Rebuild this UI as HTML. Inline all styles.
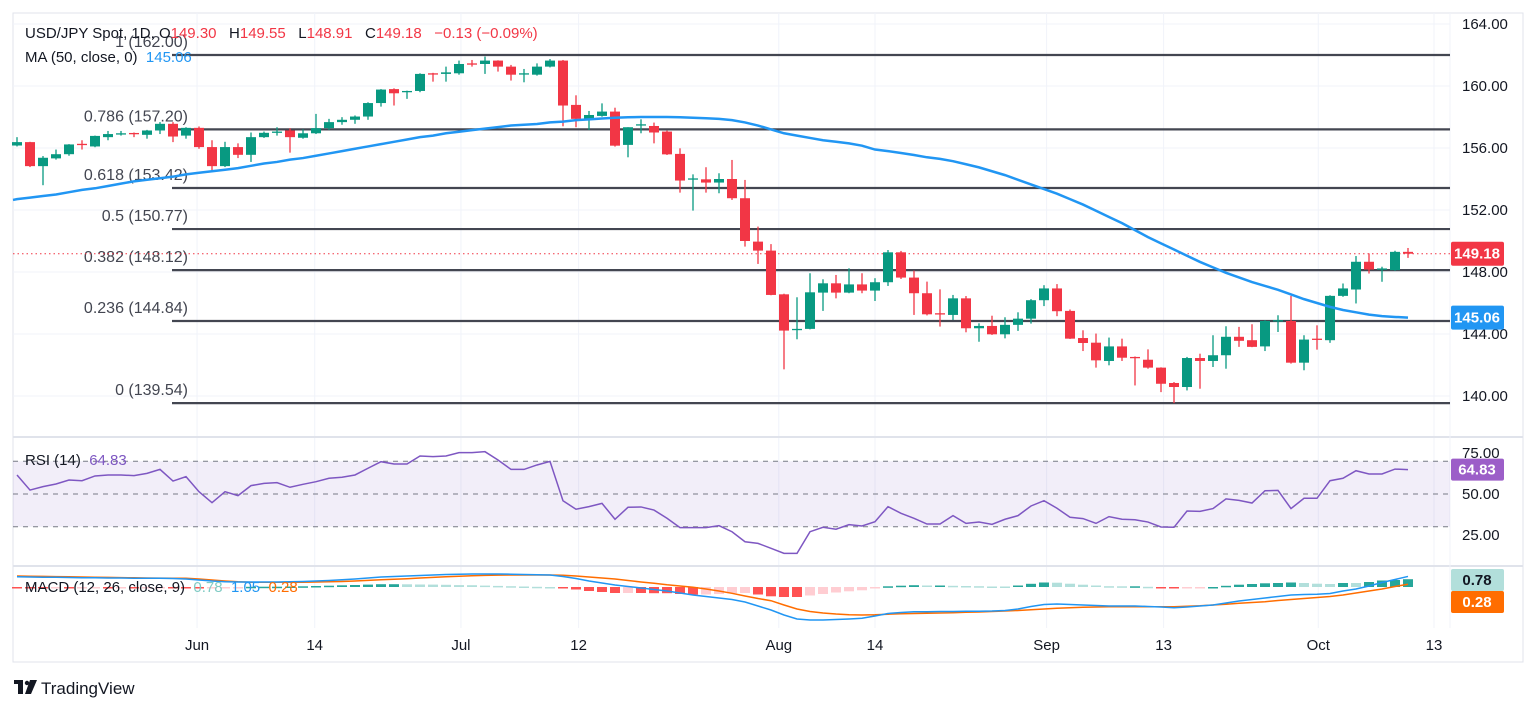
<!DOCTYPE html>
<html><head><meta charset="utf-8"><style>
html,body{margin:0;padding:0;background:#fff;}
svg{display:block;font-family:"Liberation Sans",sans-serif;}
#legend text{white-space:pre;}
</style></head><body>
<svg id="chart" width="1536" height="711" viewBox="0 0 1536 711" xmlns="http://www.w3.org/2000/svg">
<rect x="13" y="13" width="1510" height="649" fill="#fff" stroke="#e0e3eb"/>
<g id="grid"></g>
<g id="fib"></g>
<g id="main"></g>
<g id="rsi"></g>
<g id="macd"></g>
<g id="axes"></g>
<g id="legend">
<text x="25" y="38" font-size="15" fill="#131722" xml:space="preserve">USD/JPY Spot, 1D, O<tspan fill="#f23645">149.30</tspan>   H<tspan fill="#f23645">149.55</tspan>   L<tspan fill="#f23645">148.91</tspan>   C<tspan fill="#f23645">149.18</tspan>   <tspan fill="#f23645">−0.13 (−0.09%)</tspan></text>
<text x="25" y="62" font-size="15" fill="#131722" xml:space="preserve">MA (50, close, 0)  <tspan fill="#2196f3">145.06</tspan></text>
<text x="25" y="465" font-size="15" fill="#131722" xml:space="preserve">RSI (14)  <tspan fill="#7e57c2">64.83</tspan></text>
<text x="25" y="592" font-size="15" fill="#131722" xml:space="preserve">MACD (12, 26, close, 9)  <tspan fill="#80cbc4">0.78</tspan>  <tspan fill="#2196f3">1.05</tspan>  <tspan fill="#ff6d00">0.28</tspan></text>
</g>
<g>
<rect x="14" y="680" width="9" height="4" fill="#131722"/><rect x="18" y="680" width="5" height="14" fill="#131722"/>
<circle cx="27" cy="683" r="2.2" fill="#131722"/>
<polygon points="30,680 37,680 31,694 25,694" fill="#131722"/>
<text x="41" y="694" font-size="17" fill="#131722">TradingView</text>
</g>
</svg>
<script>
var NS="http://www.w3.org/2000/svg";
var opens=[156.16,156.38,154.83,155.33,155.6,156.27,156.1,156.7,156.9,156.97,156.85,157.13,157.56,156.8,157.3,156.06,154.83,156.06,155.56,156.7,156.98,157.13,156.66,156.95,157.28,157.67,157.82,158.03,158.9,159.8,159.64,159.68,160.82,160.78,160.82,161.46,161.42,161.64,161.25,160.78,160.73,161.25,161.64,158.78,157.85,158.07,158.35,156.2,157.48,157.42,157.06,155.62,154.0,153.98,153.77,154.0,152.76,149.96,149.38,146.56,144.26,144.33,146.67,147.27,146.67,147.2,146.8,147.34,149.27,147.64,146.63,145.34,145.23,146.3,144.37,144.52,143.98,144.59,144.99,146.18,146.94,145.49,143.74,143.44,142.26,143.2,142.52,142.34,141.83,140.84,140.58,142.45,142.26,142.63,143.82,143.6,143.2,144.84,144.84,142.15,143.7,143.6,146.46,146.87,148.66,148.16,148.12,149.3];
var highs=[156.7,156.4,155.48,155.9,156.25,156.5,156.8,157.1,157.1,157.0,157.17,157.67,157.67,157.34,157.39,156.5,156.4,156.3,157.0,157.06,157.34,157.28,157.2,158.2,157.88,157.99,158.1,158.95,159.8,159.85,159.7,160.82,160.85,161.25,161.64,161.68,161.9,161.66,161.36,161.1,161.46,161.74,161.68,159.4,158.39,158.88,158.6,157.34,157.85,157.64,157.12,155.98,154.3,154.76,154.37,155.23,153.94,150.93,149.8,146.6,146.37,147.92,147.53,147.81,148.24,147.92,147.6,149.42,149.36,148.09,147.38,146.88,146.52,146.45,144.69,145.18,145.08,145.4,146.25,147.15,147.22,145.58,144.24,144.03,143.77,143.7,142.55,143.01,141.85,140.9,142.52,142.73,143.92,144.5,144.46,144.63,144.89,145.21,146.46,143.92,144.56,146.5,147.26,149.03,149.2,148.34,149.37,149.55];
var lows=[156.1,154.77,153.6,155.25,155.5,155.9,156.05,156.5,156.8,156.7,156.6,156.9,156.38,156.6,155.95,154.55,154.77,155.35,155.1,156.65,156.8,155.7,156.6,156.9,157.17,157.5,157.56,157.82,158.67,158.74,159.17,159.6,160.28,160.28,160.73,161.25,160.78,160.93,160.35,160.24,160.67,161.2,157.4,157.34,157.16,158.02,156.09,155.4,156.95,156.3,155.55,153.12,151.96,153.12,153.08,152.65,149.64,148.52,146.5,141.72,143.66,144.3,145.49,146.3,146.63,146.63,146.13,147.1,147.55,145.23,145.2,144.48,144.9,144.11,143.5,143.94,143.72,144.2,144.67,145.8,145.15,143.68,142.9,141.83,141.98,142.26,140.68,141.76,140.25,139.54,140.36,140.47,141.87,141.76,143.17,143.15,142.9,144.13,142.09,141.66,142.99,143.43,146.4,145.97,147.9,147.37,148.08,148.91];
var closes=[156.38,154.83,155.37,155.6,156.23,156.2,156.78,156.9,156.95,156.9,157.13,157.56,156.74,157.3,156.06,154.83,156.06,155.56,156.7,156.98,157.06,156.7,156.95,157.28,157.67,157.82,158.03,158.9,159.77,159.53,159.68,160.78,160.78,160.88,161.42,161.42,161.64,161.25,160.73,160.82,161.25,161.64,158.74,157.88,158.13,158.35,156.15,157.34,157.53,157.0,155.59,153.9,154.04,153.77,154.0,152.76,150.0,149.38,146.52,144.22,144.33,146.69,147.27,146.67,147.2,146.8,147.34,149.27,147.64,146.63,145.27,145.27,146.3,144.37,144.52,143.98,144.59,144.99,146.18,146.94,145.47,143.7,143.42,142.3,143.2,142.47,142.45,141.83,140.79,140.58,142.45,142.26,142.63,143.82,143.56,143.17,144.84,144.89,142.15,143.64,143.62,146.46,146.94,148.66,148.16,148.23,149.3,149.18];
var ma50=[152.7,152.8,152.9,153.0,153.15,153.3,153.4,153.55,153.7,153.85,153.95,154.05,154.15,154.3,154.4,154.5,154.6,154.7,154.85,155.0,155.1,155.25,155.35,155.5,155.65,155.8,155.95,156.1,156.25,156.4,156.55,156.7,156.8,156.95,157.05,157.15,157.25,157.35,157.45,157.5,157.55,157.65,157.7,157.8,157.85,157.9,157.95,157.98,158.0,158.0,158.0,157.98,157.95,157.92,157.88,157.8,157.65,157.45,157.2,156.95,156.8,156.65,156.5,156.4,156.3,156.15,155.9,155.8,155.68,155.55,155.4,155.3,155.15,154.95,154.75,154.5,154.25,153.95,153.65,153.35,153.05,152.7,152.35,151.95,151.55,151.15,150.7,150.25,149.85,149.45,149.05,148.65,148.3,147.95,147.65,147.35,147.1,146.85,146.55,146.25,146.0,145.75,145.55,145.4,145.25,145.15,145.1,145.06];
var rsiValues=[61.6,52.4,54.5,56.1,58.5,58.1,61.0,61.6,61.6,61.2,62.6,65.0,57.9,60.6,51.4,44.7,51.4,49.0,55.1,56.5,56.9,54.1,55.9,57.5,59.6,60.2,61.6,65.7,69.7,68.3,68.3,73.2,72.8,73.2,75.2,75.2,75.8,70.7,65.0,65.0,67.7,69.9,45.9,40.7,42.3,44.3,34.6,41.9,42.1,40.2,35.2,29.5,29.5,29.5,30.7,27.0,20.9,19.9,16.9,13.8,13.8,27.0,29.7,28.5,31.3,30.5,33.1,42.3,38.2,35.2,31.7,31.7,36.8,32.1,32.9,31.5,34.6,36.8,42.7,45.9,41.3,35.8,35.0,32.1,36.2,34.6,34.3,32.9,29.9,29.7,39.6,39.4,41.1,47.0,46.1,44.5,52.0,52.2,41.1,47.4,47.4,58.1,59.6,64.2,62.2,62.2,65.2,64.83];
var macdLine=[1.03,1.0,0.98,0.97,0.95,0.93,0.92,0.9,0.9,0.88,0.88,0.88,0.85,0.8,0.7,0.6,0.53,0.5,0.5,0.5,0.5,0.52,0.55,0.6,0.65,0.72,0.8,0.9,1.0,1.05,1.1,1.15,1.2,1.25,1.27,1.3,1.3,1.3,1.28,1.25,1.22,1.2,1.05,0.85,0.6,0.4,0.2,0.05,-0.1,-0.25,-0.4,-0.6,-0.8,-0.95,-1.1,-1.25,-1.5,-1.9,-2.3,-2.8,-3.2,-3.3,-3.3,-3.25,-3.2,-3.13,-2.9,-2.65,-2.55,-2.47,-2.47,-2.45,-2.45,-2.43,-2.42,-2.4,-2.35,-2.2,-1.95,-1.75,-1.7,-1.75,-1.8,-1.85,-1.9,-1.9,-1.9,-1.95,-2.0,-2.07,-2.0,-1.9,-1.8,-1.6,-1.4,-1.25,-1.1,-0.95,-0.8,-0.75,-0.72,-0.65,-0.4,-0.2,0.1,0.45,0.75,1.055];
var signalLine=[1.1,1.08,1.06,1.04,1.02,1.0,0.98,0.96,0.94,0.92,0.9,0.89,0.88,0.87,0.8,0.7,0.6,0.52,0.48,0.47,0.47,0.47,0.48,0.5,0.52,0.55,0.6,0.66,0.72,0.77,0.83,0.9,0.96,1.03,1.08,1.12,1.16,1.19,1.2,1.2,1.2,1.2,1.18,1.1,1.0,0.9,0.8,0.65,0.5,0.37,0.22,0.1,-0.03,-0.2,-0.4,-0.63,-0.9,-1.15,-1.37,-1.8,-2.2,-2.45,-2.6,-2.7,-2.77,-2.8,-2.78,-2.72,-2.68,-2.65,-2.62,-2.6,-2.57,-2.53,-2.5,-2.45,-2.4,-2.35,-2.27,-2.2,-2.13,-2.08,-2.03,-2.0,-1.98,-1.97,-1.97,-1.97,-1.97,-1.97,-1.93,-1.88,-1.8,-1.72,-1.63,-1.55,-1.47,-1.35,-1.25,-1.15,-1.05,-0.95,-0.8,-0.6,-0.4,-0.2,0.05,0.276];
var fibRatios=["1","0.786","0.618","0.5","0.382","0.236","0"];
var fibPrices=[162.00,157.20,153.42,150.77,148.12,144.84,139.54];
var priceTicks=[164,160,156,152,148,144,140];
var rsiTicks=[75,50,25];
var timeLabels=["Jun","14","Jul","12","Aug","14","Sep","13","Oct","13"];
var timeIndex=[13.85,22.9,34.15,43.2,58.6,66,79.2,88.2,100.1,109];

var X0=17,STEP=13,PR=1450;
function xAt(i){return X0+i*STEP;}
function yP(p){return 24+(164-p)*15.5;}
function yR(v){return 494-(v-50)*1.64;}
function yM(v){return 587-v*10;}
function mk(tag,attrs,parent){var e=document.createElementNS(NS,tag);for(var k in attrs)e.setAttribute(k,attrs[k]);document.getElementById(parent).appendChild(e);return e;}

priceTicks.forEach(function(p){
  var l=mk('line',{x1:13,x2:PR,y1:yP(p),y2:yP(p),stroke:'#f0f3fa'},'grid');
  
  
});
timeIndex.forEach(function(t){
  var l=mk('line',{x1:xAt(t),x2:xAt(t),y1:13,y2:628,stroke:'#f0f3fa'},'grid');
  
  
});
[437,566].forEach(function(y){
  var l=mk('line',{x1:13,x2:1523,y1:y,y2:y,stroke:'#e0e3eb','stroke-width':2},'grid');
  
  
});
var vl=mk('line',{x1:PR,x2:PR,y1:13,y2:628,stroke:'#f0f3fa'},'grid');



fibPrices.forEach(function(p,i){
  var l=mk('line',{x1:172,x2:PR,y1:yP(p),y2:yP(p),stroke:'#434651','stroke-width':2.2},'fib');
  
  
  var t=mk('text',{x:188,y:yP(p)-8,'text-anchor':'end','font-size':16,fill:'#434651'},'fib');
  t.textContent=fibRatios[i]+' ('+p.toFixed(2)+')';
  
  
});

var lp=closes[closes.length-1];
var dl=mk('line',{x1:13,x2:PR,y1:yP(lp),y2:yP(lp),stroke:'#f23645','stroke-dasharray':'1.5 3'},'main');



for(var i=0;i<opens.length;i++){
  var up=closes[i]>=opens[i],c=up?'#089981':'#f23645',x=xAt(i);
  var w=mk('line',{x1:x,x2:x,y1:yP(highs[i]),y2:yP(lows[i]),stroke:c,'stroke-width':1.3},'main');
  
  
  var t=yP(Math.max(opens[i],closes[i])),b=yP(Math.min(opens[i],closes[i]));
  var r=mk('rect',{x:x-5,y:t,width:10,height:Math.max(1.3,b-t),fill:c},'main');
  
  
}
var d='';ma50.forEach(function(v,i){d+=(i?'L':'M')+xAt(i)+','+yP(v);});
var mp=mk('path',{d:'M13,'+yP(ma50[0]-0.05)+'L'+d.slice(1),fill:'none',stroke:'#2196f3','stroke-width':2.5},'main');



var band=mk('rect',{x:13,y:yR(70),width:PR-13,height:yR(30)-yR(70),fill:'#7e57c2','fill-opacity':0.1},'rsi');


[70,50,30].forEach(function(v){
  var l=mk('line',{x1:13,x2:PR,y1:yR(v),y2:yR(v),stroke:'#787b86','stroke-dasharray':'5 5'},'rsi');
  
  
});
d='';rsiValues.forEach(function(v,i){d+=(i?'L':'M')+xAt(i)+','+yR(v);});
var rp=mk('path',{d:d,fill:'none',stroke:'#7e57c2','stroke-width':1.5},'rsi');



for(var i=0;i<macdLine.length;i++){
  var h=macdLine[i]-signalLine[i],ph=i?macdLine[i-1]-signalLine[i-1]:h;
  var col=h>=0?(h>=ph?'#26a69a':'#b2dfdb'):(h<=ph?'#ff5252':'#ffcdd2');
  var y0=yM(0),y1=yM(h);
  var hb=mk('rect',{x:xAt(i)-5,y:Math.min(y0,y1),width:10,height:Math.max(1.5,Math.abs(y1-y0)),fill:col},'macd');
  
  
}
d='';signalLine.forEach(function(v,i){d+=(i?'L':'M')+xAt(i)+','+yM(v);});
var sp=mk('path',{d:d,fill:'none',stroke:'#ff6d00','stroke-width':1.5},'macd');


d='';macdLine.forEach(function(v,i){d+=(i?'L':'M')+xAt(i)+','+yM(v);});
var mlp=mk('path',{d:d,fill:'none',stroke:'#2196f3','stroke-width':1.5},'macd');



priceTicks.forEach(function(p){
  var t=mk('text',{x:1462,y:yP(p)+5,'font-size':15,fill:'#131722'},'axes');
  t.textContent=p.toFixed(2);
  
  
});
rsiTicks.forEach(function(v){
  var t=mk('text',{x:1462,y:yR(v)+5,'font-size':15,fill:'#131722'},'axes');
  t.textContent=v.toFixed(2);
  
  
});
timeLabels.forEach(function(s,i){
  var t=mk('text',{x:xAt(timeIndex[i]),y:650,'text-anchor':'middle','font-size':15,fill:'#131722'},'axes');
  t.textContent=s;
  
  
});
function badge(yc,txt,bg,fg,name,h){
  var r=mk('rect',{x:1451,y:yc-h/2,width:53,height:h,rx:2,fill:bg},'axes');
  
  
  var t=mk('text',{x:1477,y:yc+5,'text-anchor':'middle','font-size':15,'font-weight':'bold',fill:fg},'axes');
  t.textContent=txt;
  
  
}
badge(yP(lp),lp.toFixed(2),'#f23645','#fff','last-price-badge',24);
badge(yP(ma50[ma50.length-1]),ma50[ma50.length-1].toFixed(2),'#2196f3','#fff','ma-badge',24);
badge(yR(rsiValues[rsiValues.length-1]),rsiValues[rsiValues.length-1].toFixed(2),'#9c5ec8','#fff','rsi-badge',22);
var hl=macdLine[macdLine.length-1]-signalLine[signalLine.length-1];
badge(580,hl.toFixed(2),'#b2dfdb','#131722','histogram-badge',22);
badge(602,signalLine[signalLine.length-1].toFixed(2),'#ff6d00','#fff','signal-badge',22);
</script>
</body></html>
